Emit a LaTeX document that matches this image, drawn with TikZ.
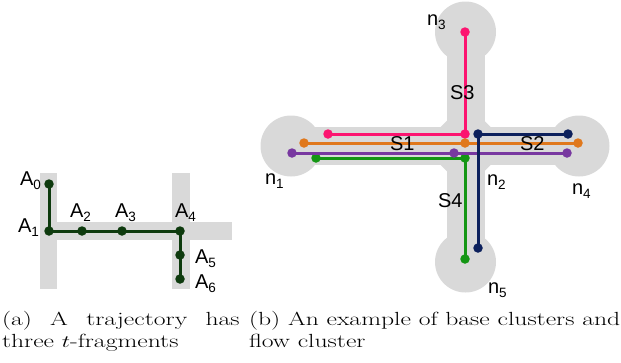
\documentclass[tikz,border=0pt]{standalone}
\usepackage{fontspec}
\newfontfamily\lab{Liberation Sans}
\definecolor{band}{RGB}{217,217,217}
\definecolor{dgreen}{RGB}{14,58,14}
\definecolor{cpink}{RGB}{252,20,112}
\definecolor{corange}{RGB}{224,120,28}
\definecolor{cpurple}{RGB}{120,56,160}
\definecolor{cgreen}{RGB}{20,150,20}
\definecolor{cnavy}{RGB}{12,32,92}
\newcommand{\lbl}[2]{{\lab\fontsize{20}{20}\selectfont #1\raisebox{-4pt}{\fontsize{13.5}{13.5}\selectfont #2}}}
\begin{document}
\begin{tikzpicture}[x=1pt,y=-1pt,
  dot/.style={circle,fill=#1,inner sep=0pt,minimum size=9.5pt},
  link/.style={line width=3pt,#1},
  txt/.style={inner sep=0pt,outer sep=0pt,anchor=base west},
  captxt/.style={inner sep=0pt,outer sep=0pt,anchor=base west,font=\fontsize{19}{22}\selectfont}]
\useasboundingbox (0,0) rectangle (621,362);
% ---------- left panel bands
\fill[band] (40,173) rectangle (57,289);
\fill[band] (172,173) rectangle (190,289);
\fill[band] (57,222) rectangle (232,240);
% trajectory
\node[dot=dgreen] (a0) at (49,184) {};
\node[dot=dgreen] (a1) at (49,231) {};
\node[dot=dgreen] (a2) at (82,231) {};
\node[dot=dgreen] (a3) at (122,231) {};
\node[dot=dgreen] (a4) at (180,231) {};
\node[dot=dgreen] (a5) at (180,255) {};
\node[dot=dgreen] (a6) at (180,279) {};
\draw[link=dgreen] (a0.center) -- (a1.center) -- (a2.center) -- (a3.center) -- (a4.center) -- (a5.center) -- (a6.center);
\node[txt] (la0) at (20,185) {\lbl{A}{0}};
\node[txt] (la1) at (18,232) {\lbl{A}{1}};
\node[txt] (la2) at (70,217) {\lbl{A}{2}};
\node[txt] (la3) at (115,217) {\lbl{A}{3}};
\node[txt] (la4) at (175,217) {\lbl{A}{4}};
\node[txt] (la5) at (195,263) {\lbl{A}{5}};
\node[txt] (la6) at (195,288) {\lbl{A}{6}};
% ---------- right panel background
\fill[band] (291,146) circle (30.5);
\fill[band] (579,146) circle (30.5);
\fill[band] (465.5,32) circle (30.5);
\fill[band] (465.5,262) circle (30.5);
\fill[band] (291,127) rectangle (579,165);
\fill[band] (446.5,32) rectangle (484.5,262);
\fill[band] (465.5,102) -- (509.5,146) -- (465.5,190) -- (421.5,146) -- cycle;
% pink
\node[dot=cpink] (p1) at (465,32) {};
\node[dot=cpink] (p2) at (465,134) {};
\node[dot=cpink] (p3) at (328,134) {};
\draw[link=cpink] (p1.center) -- (p2.center) -- (p3.center);
% green
\node[dot=cgreen] (g1) at (316,158) {};
\node[dot=cgreen] (g2) at (465,158) {};
\node[dot=cgreen] (g3) at (465,259) {};
\draw[link=cgreen] (g1.center) -- (g2.center) -- (g3.center);
% orange
\node[dot=corange] (o1) at (304,143) {};
\node[dot=corange] (o2) at (465,143) {};
\node[dot=corange] (o3) at (578,143) {};
\draw[link=corange] (o1.center) -- (o2.center) -- (o3.center);
% purple
\node[dot=cpurple] (u1) at (292,153) {};
\node[dot=cpurple] (u2) at (454,153) {};
\node[dot=cpurple] (u3) at (567,153) {};
\draw[link=cpurple] (u1.center) -- (u2.center) -- (u3.center);
% navy
\node[dot=cnavy] (v1) at (568,134) {};
\node[dot=cnavy] (v2) at (478,134) {};
\node[dot=cnavy] (v3) at (478,248) {};
\draw[link=cnavy] (v1.center) -- (v2.center) -- (v3.center);
% labels
\node[txt] (ln3) at (427,25) {\lbl{n}{3}};
\node[txt] (ls3) at (450,99) {\lbl{S3}{}};
\node[txt] (ls1) at (390,150) {\lbl{S1}{}};
\node[txt] (ls2) at (520,150) {\lbl{S2}{}};
\node[txt] (ln1) at (265,184) {\lbl{n}{1}};
\node[txt] (ln2) at (487,185) {\lbl{n}{2}};
\node[txt] (ln4) at (572,194) {\lbl{n}{4}};
\node[txt] (ls4) at (438,207) {\lbl{S4}{}};
\node[txt] (ln5) at (488,293) {\lbl{n}{5}};
% ---------- captions
\node[captxt] (ca1) at (2,325) {\scalebox{1.35}[1]{\makebox[176pt][s]{(a) A trajectory has}}};
\node[captxt] (ca2) at (2,347) {\scalebox{1.35}[1]{three $t$-fragments}};
\node[captxt] (cb1) at (249,325) {\scalebox{1.35}[1]{(b) An example of base clusters and}};
\node[captxt] (cb2) at (249,347) {\scalebox{1.35}[1]{flow cluster}};
\end{tikzpicture}
\end{document}
